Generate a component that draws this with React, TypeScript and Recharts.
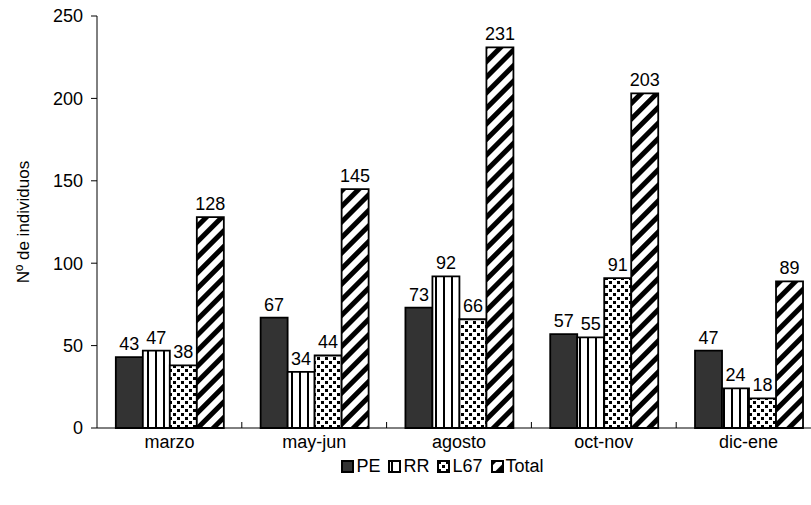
import { Bar, BarChart, LabelList, Legend, XAxis, YAxis } from "recharts"

// periodos de muestreo y conteos por grupo
const periodos = ["marzo", "may-jun", "agosto", "oct-nov", "dic-ene"]
const pe = [43, 67, 73, 57, 47]
const rr = [47, 34, 92, 55, 24]
const l67 = [38, 44, 66, 91, 18]
const total = [128, 145, 231, 203, 89]
const yTicks = [0, 50, 100, 150, 200, 250]

const series = [
  { key: "PE", fill: "#333333" },
  { key: "RR", fill: "url(#rayasV)" },
  { key: "L67", fill: "url(#puntos)" },
  { key: "Total", fill: "url(#rayasD)" },
]

const data = periodos.map((p, i) => ({
  name: p,
  PE: pe[i],
  RR: rr[i],
  L67: l67[i],
  Total: total[i],
}))

const font = "'Liberation Sans', Arial, sans-serif"

function Patterns() {
  return (
    <svg width={0} height={0} style={{ position: "absolute" }}>
      <defs>
        <pattern id="rayasV" patternUnits="userSpaceOnUse" width={8} height={8}>
          <rect width={8} height={8} fill="#fff" />
          <rect x={3} width={2} height={8} fill="#000" />
        </pattern>
        <pattern id="puntos" patternUnits="userSpaceOnUse" width={8} height={8}>
          <rect width={8} height={8} fill="#fff" />
          <rect x={1} y={1} width={3} height={3} fill="#000" />
          <rect x={5} y={5} width={3} height={3} fill="#000" />
        </pattern>
        <pattern
          id="rayasD"
          patternUnits="userSpaceOnUse"
          width={11}
          height={11}
          patternTransform="rotate(45)"
        >
          <rect width={11} height={11} fill="#fff" />
          <rect width={5} height={11} fill="#000" />
        </pattern>
      </defs>
    </svg>
  )
}

function CatTick(props: any) {
  const { x, y, payload } = props
  const half = payload?.offset ?? 72
  return (
    <g>
      <line x1={x + half} x2={x + half} y1={y - 6} y2={y} stroke="#000" />
      <text x={x} y={y + 20} textAnchor="middle" fontSize={18} fontFamily={font} fill="#000">
        {payload.value}
      </text>
    </g>
  )
}

function Leyenda() {
  return (
    <div style={{ display: "flex", justifyContent: "center", gap: 8, height: 20, alignItems: "center" }}>
      {series.map((s) => (
        <div key={s.key} style={{ display: "flex", alignItems: "center", gap: 2 }}>
          <svg width={13} height={13}>
            <rect x={1} y={1} width={11} height={11} fill={s.fill} stroke="#000" strokeWidth={2} />
          </svg>
          <span style={{ fontFamily: font, fontSize: 18, color: "#000" }}>{s.key}</span>
        </div>
      ))}
    </div>
  )
}

export default function App() {
  return (
    <div style={{ position: "absolute", left: 0, top: 0, width: 811, height: 505, overflow: "hidden", background: "#fff" }}>
      <Patterns />
      <BarChart
        width={830}
        height={505}
        data={data}
        margin={{ top: 16, right: 9, bottom: 29, left: 0 }}
        barGap={0}
        barCategoryGap="13%"
      >
        <XAxis
          dataKey="name"
          height={28}
          tickSize={0}
          tickMargin={0}
          tickLine={false}
          axisLine={{ stroke: "#000" }}
          tick={<CatTick />}
          interval={0}
        />
        <YAxis
          width={97}
          domain={[0, 250]}
          ticks={yTicks}
          tickSize={6}
          tickMargin={8}
          axisLine={{ stroke: "#000" }}
          tickLine={{ stroke: "#000" }}
          tick={{ fontSize: 18, fill: "#000", fontFamily: font }}
          label={{
            value: "Nº de individuos",
            angle: -90,
            position: "center",
            dx: -26,
            style: { fontSize: 17, fill: "#000", fontFamily: font, textAnchor: "middle" },
          }}
        />
        <Legend verticalAlign="bottom" content={<Leyenda />} wrapperStyle={{ left: 32 }} />
        {series.map((s) => (
          <Bar key={s.key} dataKey={s.key} fill={s.fill} stroke="#000" strokeWidth={1.8} isAnimationActive={false}>
            <LabelList dataKey={s.key} position="top" offset={7} fontSize={18} fill="#000" fontFamily={font} />
          </Bar>
        ))}
      </BarChart>
    </div>
  )
}
